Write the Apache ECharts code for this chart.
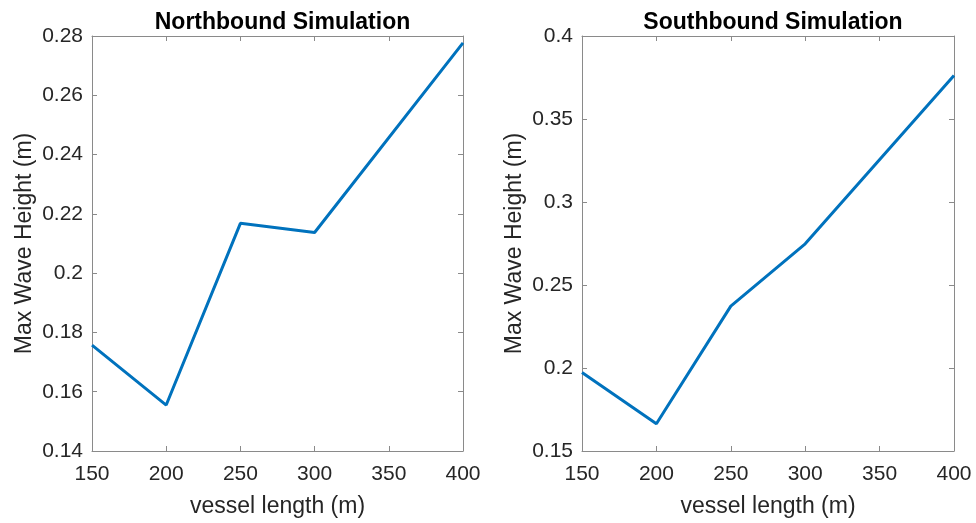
<!DOCTYPE html>
<html><head><meta charset="utf-8">
<script src="https://cdn.jsdelivr.net/npm/echarts@6/dist/echarts.min.js"></script>
<style>html,body{margin:0;padding:0;background:#fff}#c{width:976px;height:523px}</style>
</head><body><div id="c"></div>
<script>
const vesselLength = [150, 200, 250, 300, 400];
const northbound = [0.1757, 0.1555, 0.2168, 0.2137, 0.2777];
const southbound = [0.1973, 0.1664, 0.2373, 0.2748, 0.3762];
const titles = ['Northbound Simulation', 'Southbound Simulation'];
const xTicks = {min: 150, max: 400, interval: 50};
const yNorth = {min: 0.14, max: 0.28, interval: 0.02};
const ySouth = {min: 0.15, max: 0.4, interval: 0.05};

const FONT = '"Liberation Sans", Arial, sans-serif';
const TXT = '#262626';
const LINE = '#8a8a8a';
const grids = [
  {left: 92, top: 36, width: 371, height: 417},
  {left: 582, top: 36, width: 372, height: 417}
];
function fmt(v){ return String(parseFloat(v.toFixed(4))); }
const xAxes = [], yAxes = [], series = [], titleArr = [];
[ [northbound, yNorth], [southbound, ySouth] ].forEach(([data, yr], i) => {
  xAxes.push({
    type: 'value', gridIndex: i, min: xTicks.min, max: xTicks.max, interval: xTicks.interval,
    name: 'vessel length (m)', nameLocation: 'middle', nameGap: 44,
    nameTextStyle: {color: TXT, fontSize: 23, fontFamily: FONT},
    axisLine: {show: true, lineStyle: {color: LINE, width: 1}},
    axisTick: {show: true, inside: true, length: 5, lineStyle: {color: LINE}},
    axisLabel: {color: TXT, fontSize: 21, fontFamily: FONT, margin: 13, formatter: fmt},
    splitLine: {show: false}
  });
  xAxes.push({
    type: 'value', gridIndex: i, position: 'top', min: xTicks.min, max: xTicks.max, interval: xTicks.interval,
    axisLine: {show: true, lineStyle: {color: LINE, width: 1}},
    axisTick: {show: true, inside: true, length: 5, lineStyle: {color: LINE}},
    axisLabel: {show: false}, splitLine: {show: false}
  });
  yAxes.push({
    type: 'value', gridIndex: i, min: yr.min, max: yr.max, interval: yr.interval,
    name: 'Max Wave Height (m)', nameLocation: 'middle', nameGap: 56,
    nameTextStyle: {color: TXT, fontSize: 23, fontFamily: FONT},
    axisLine: {show: true, lineStyle: {color: LINE, width: 1}},
    axisTick: {show: true, inside: true, length: 5, lineStyle: {color: LINE}},
    axisLabel: {color: TXT, fontSize: 21, fontFamily: FONT, margin: 9, formatter: fmt},
    splitLine: {show: false}
  });
  yAxes.push({
    type: 'value', gridIndex: i, position: 'right', min: yr.min, max: yr.max, interval: yr.interval,
    axisLine: {show: true, lineStyle: {color: LINE, width: 1}},
    axisTick: {show: true, inside: true, length: 5, lineStyle: {color: LINE}},
    axisLabel: {show: false}, splitLine: {show: false}
  });
  series.push({
    type: 'line', xAxisIndex: i*2, yAxisIndex: i*2,
    data: vesselLength.map((x, k) => [x, data[k]]),
    showSymbol: false, symbol: 'none',
    lineStyle: {color: '#0072BD', width: 3}, silent: true
  });
  titleArr.push({
    text: titles[i], left: grids[i].left + grids[i].width/2, top: 6, textAlign: 'center',
    textStyle: {color: '#000', fontSize: 23, fontWeight: 'bold', fontFamily: FONT}
  });
});
const chart = echarts.init(document.getElementById('c'), null, {renderer: 'canvas'});
chart.setOption({
  animation: false, backgroundColor: '#fff',
  title: titleArr, grid: grids, xAxis: xAxes, yAxis: yAxes, series: series
});
</script></body></html>
